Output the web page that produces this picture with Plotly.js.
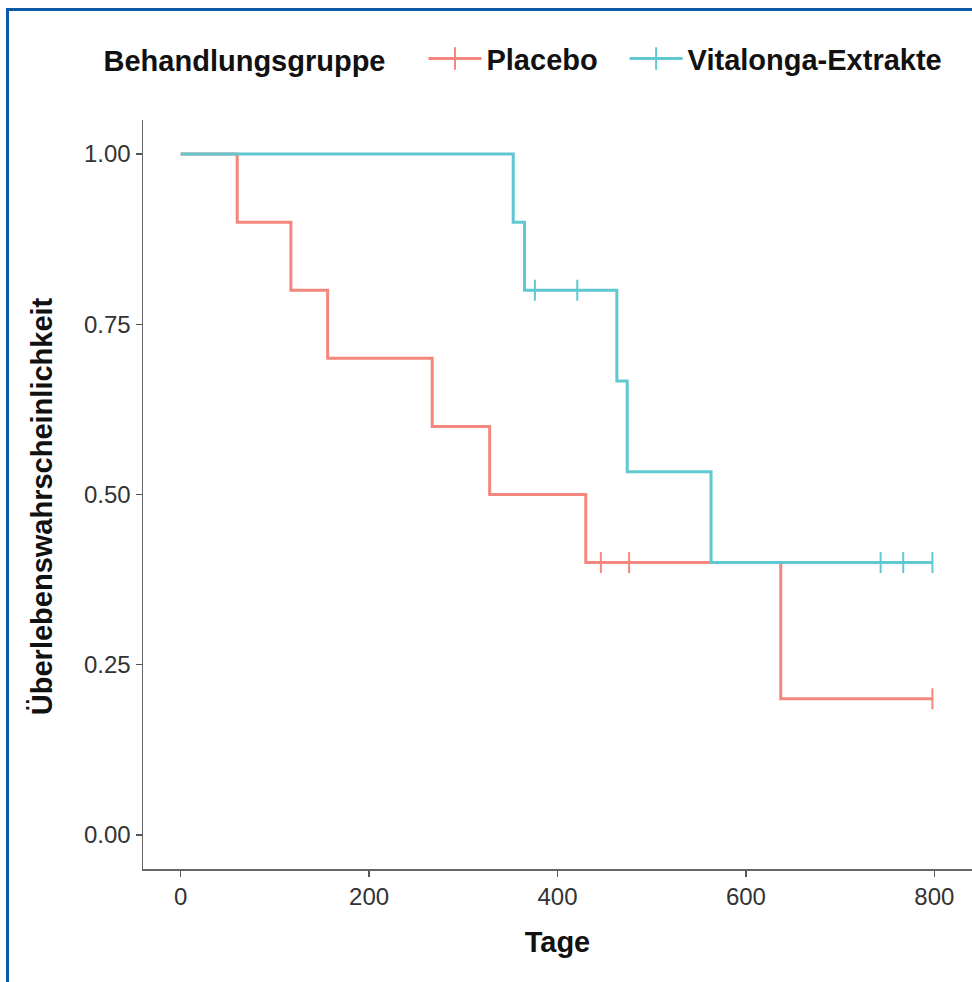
<!DOCTYPE html>
<html>
<head>
<meta charset="utf-8">
<script src="https://cdn.plot.ly/plotly-3.0.1.min.js"></script>
<style>
  html, body { margin: 0; padding: 0; overflow: hidden; background: #fff; }
  #frame { position: absolute; left: 6px; top: 8px; width: 2000px; height: 2000px;
           border-left: 3px solid #0b5aa8; border-top: 3px solid #0b5aa8; pointer-events: none; z-index: 10; }
  #chart { position: absolute; left: 0; top: 0; width: 972px; height: 982px; }
</style>
</head>
<body>
<div id="chart"></div>
<div id="frame"></div>
<script>
// Kaplan-Meier step data
const groups = ["Placebo", "Vitalonga-Extrakte"];
const placeboTimes = [0, 60, 117, 156, 267, 328, 430, 637, 798];
const placeboSurv  = [1.0, 0.9, 0.8, 0.7, 0.6, 0.5, 0.4, 0.2, 0.2];
const placeboCensTimes = [446, 476, 798];
const placeboCensSurv  = [0.4, 0.4, 0.2];

const vitaTimes = [0, 353, 365, 463, 474, 563, 798];
const vitaSurv  = [1.0, 0.9, 0.8, 0.6667, 0.5333, 0.4, 0.4];
const vitaCensTimes = [376, 421, 743, 767, 798];
const vitaCensSurv  = [0.8, 0.8, 0.4, 0.4, 0.4];

const xTicks = [0, 200, 400, 600, 800];
const yTicks = [0, 0.25, 0.5, 0.75, 1.0];
const yTickText = ["0.00", "0.25", "0.50", "0.75", "1.00"];

const colors = ["#F4877D", "#5FC8D0"];
const FONT = "Liberation Sans, Arial, Helvetica, sans-serif";
const PAD = "\u00a0\u00a0\u2009";

function series(times, surv, cTimes, cSurv, name, color) {
  return [
    { x: times, y: surv, type: "scatter", mode: "lines", line: { shape: "hv", color: color, width: 3 },
      showlegend: false, hoverinfo: "skip" },
    { x: cTimes, y: cSurv, type: "scatter", mode: "markers", showlegend: false,
      marker: { symbol: "line-ns", size: 15, line: { color: color, width: 2 } }, hoverinfo: "skip" },
    { x: [null], y: [null], type: "scatter", mode: "lines+markers", name: name,
      line: { color: color, width: 3 },
      marker: { symbol: "cross-thin", size: 16, line: { color: color, width: 2 } } }
  ];
}

const data = [].concat(
  series(placeboTimes, placeboSurv, placeboCensTimes, placeboCensSurv, groups[0] + PAD, colors[0]),
  series(vitaTimes, vitaSurv, vitaCensTimes, vitaCensSurv, groups[1], colors[1])
);

const layout = {
  width: 972, height: 982,
  margin: { l: 143, r: 0, t: 120, b: 113 },
  paper_bgcolor: "rgba(0,0,0,0)",
  plot_bgcolor: "#fff",
  font: { family: FONT },
  xaxis: {
    range: [-40, 840], tickvals: xTicks, ticks: "outside", ticklen: 6, tickwidth: 1.5, tickcolor: "#555",
    showline: true, linecolor: "#666", linewidth: 1.5, showgrid: false, zeroline: false,
    tickfont: { size: 24, color: "#333", family: FONT },
    title: { text: "Tage", standoff: 22, font: { size: 29, weight: "bold", color: "#111", family: FONT } }
  },
  yaxis: {
    range: [-0.05, 1.05], tickvals: yTicks, ticktext: yTickText, ticks: "outside", ticklen: 6, tickwidth: 1.5,
    tickcolor: "#555", showline: true, linecolor: "#666", linewidth: 1.5, showgrid: false, zeroline: false,
    tickfont: { size: 24, color: "#333", family: FONT }
  },
  annotations: [{
    text: "Überlebenswahrscheinlichkeit", textangle: -90, showarrow: false,
    xref: "paper", yref: "paper", x: -0.121, y: 0.484, xanchor: "center", yanchor: "middle",
    font: { size: 29, weight: "bold", color: "#111", family: FONT }
  }],
  legend: {
    orientation: "h", x: -0.05, xanchor: "left", y: 1.116, yanchor: "top",
    font: { size: 29, weight: "bold", color: "#111", family: FONT },
    title: { text: "Behandlungsgruppe&nbsp;&nbsp;&nbsp;\u2009", side: "left", font: { size: 29, weight: "bold", color: "#111", family: FONT } },
    itemwidth: 53, tracegroupgap: 0
  }
};

Plotly.newPlot("chart", data, layout, { displayModeBar: false, staticPlot: true });
</script>
</body>
</html>
